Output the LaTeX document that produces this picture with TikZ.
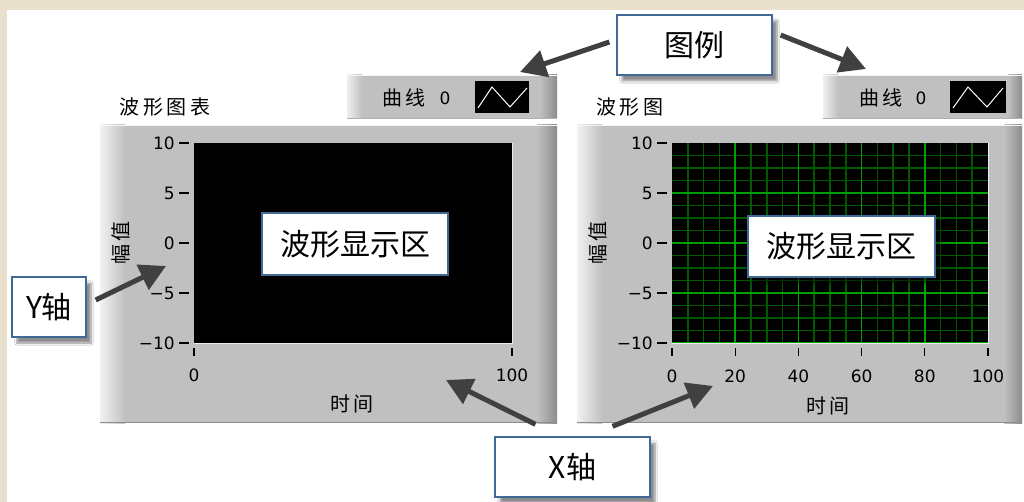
\documentclass[tikz,border=0pt]{standalone}
\usepackage{fontspec}
\setmainfont{DejaVu Sans}
\newfontfamily\cjk[LetterSpace=18]{Noto Sans CJK SC}
\newfontfamily\cjkc{Noto Sans CJK SC}
\usetikzlibrary{arrows.meta,shadows.blur}
\definecolor{beige}{RGB}{232,224,204}
\definecolor{calloutblue}{RGB}{65,105,150}
\definecolor{arrowgray}{RGB}{64,64,64}
\definecolor{panelgray}{RGB}{192,192,192}
\definecolor{majorgreen}{RGB}{0,160,0}
\definecolor{minorgreen}{RGB}{0,90,0}
\tikzset{
  callout/.style={draw=calloutblue, line width=1.3pt, fill=white, inner sep=0pt,
    font=\cjkc\fontsize{30}{36}\selectfont,
    blur shadow={shadow xshift=5pt, shadow yshift=-6pt, shadow blur steps=8, shadow opacity=45}},
  callarrow/.style={draw=arrowgray, line width=5pt, -{Triangle[length=26pt,width=27pt]}},
  paneltitle/.style={font=\cjk\fontsize{20}{24}\selectfont, inner sep=0pt},
  ticklabel/.style={font=\fontsize{17}{20}\selectfont, inner sep=0pt},
  tickline/.style={line width=1.2pt, black},
  wave/.style={white, line width=1pt}
}
\begin{document}
\begin{tikzpicture}[x=1pt,y=-1pt]
\useasboundingbox (0,0) rectangle (1024,502);
\fill[beige] (0,0) rectangle (1024,502);
\fill[white] (7,10) rectangle (1024,502);

% ---------- left panel (chart) ----------
\fill[panelgray] (100,125) rectangle (557,423);
\shade[left color=white!80!panelgray, right color=panelgray] (100,125) rectangle (125,423);
\shade[left color=panelgray, right color=black!45] (537,125) rectangle (557,423);
\draw[white!85!panelgray, line width=1.5pt] (100,125.75) -- (557,125.75);
\draw[black!45, line width=1.5pt] (100,422.25) -- (557,422.25);
\fill[black] (194,143) rectangle (512,343);
\draw[white!70!panelgray, line width=1pt] (512.5,143) -- (512.5,343.5) -- (194,343.5);

% ---------- right panel (graph) ----------
\fill[panelgray] (577,125) rectangle (1022,423);
\shade[left color=white!80!panelgray, right color=panelgray] (577,125) rectangle (602,423);
\shade[left color=panelgray, right color=black!45] (1004,125) rectangle (1022,423);
\draw[white!85!panelgray, line width=1.5pt] (577,125.75) -- (1022,125.75);
\draw[black!45, line width=1.5pt] (577,422.25) -- (1022,422.25);
\fill[black] (672,143) rectangle (988,343);
\foreach \i in {1,...,19} {
  \draw[minorgreen, line width=1.5pt] ({672+\i*15.8},143) -- ({672+\i*15.8},343);
}
\foreach \j in {1,...,15} {
  \draw[minorgreen, line width=1.5pt] (672,{143+\j*12.5}) -- (988,{143+\j*12.5});
}
\foreach \i in {1,...,4} {
  \draw[majorgreen, line width=1.5pt] ({672+\i*63.2},143) -- ({672+\i*63.2},343);
  \draw[majorgreen, line width=1.5pt] (672,{143+\i*50}) -- (988,{143+\i*50});
}
\draw[white!70!panelgray, line width=1pt] (988.5,143) -- (988.5,343.5) -- (672,343.5);

% ---------- y axes ----------
\foreach \v/\yy in {10/143, 5/193, 0/243, {\char"2212 5}/293, {\char"2212 10}/343} {
  \draw[tickline] (179,\yy) -- (189,\yy);
  \node[ticklabel, anchor=east] at (175,\yy) {\v};
  \draw[tickline] (657,\yy) -- (667,\yy);
  \node[ticklabel, anchor=east] at (653,\yy) {\v};
}
\node[paneltitle, rotate=90] (yl1) at (121,243) {幅值};
\node[paneltitle, rotate=90] (yl2) at (598,243) {幅值};

% ---------- x axes ----------
\foreach \xx/\v in {194/0, 512/100} {
  \draw[tickline] (\xx,348) -- (\xx,356);
  \node[ticklabel] at (\xx,375) {\v};
}
\foreach \k/\v in {0/0,1/20,2/40,3/60,4/80,5/100} {
  \draw[tickline] ({672+\k*63.2},348) -- ({672+\k*63.2},356);
  \node[ticklabel] at ({672+\k*63.2},376) {\v};
}
\node[paneltitle] (xl1) at (352,404) {时间};
\node[paneltitle] (xl2) at (828,406) {时间};

% ---------- titles ----------
\node[paneltitle] (t1) at (165,107) {波形图表};
\node[paneltitle] (t2) at (630,107) {波形图};

% ---------- legends ----------
\fill[panelgray] (347,75) rectangle (557,119);
\shade[left color=white!75!panelgray, right color=panelgray] (347,75) rectangle (362,119);
\shade[left color=panelgray, right color=black!45] (540,75) rectangle (557,119);
\draw[white!85!panelgray, line width=1.5pt] (347,75.75) -- (557,75.75);
\draw[black!30, line width=1pt] (347,118.5) -- (557,118.5);
\node[paneltitle] (c1) at (404,98) {曲线};
\node[ticklabel] (z1) at (445,98) {0};
\fill[black] (475,81) rectangle (529,113);
\draw[wave] (478,108) -- (492,87) -- (510,107) -- (527,88);

\fill[panelgray] (823,75) rectangle (1022,119);
\shade[left color=white!75!panelgray, right color=panelgray] (823,75) rectangle (838,119);
\shade[left color=panelgray, right color=black!45] (1008,75) rectangle (1022,119);
\draw[white!85!panelgray, line width=1.5pt] (823,75.75) -- (1022,75.75);
\draw[black!30, line width=1pt] (823,118.5) -- (1022,118.5);
\node[paneltitle] (c2) at (881,98) {曲线};
\node[ticklabel] (z2) at (921,98) {0};
\fill[black] (950,81) rectangle (1006,113);
\draw[wave] (953,108) -- (968,87) -- (987,107) -- (1003,88);

% ---------- callouts ----------
\node[callout, minimum width=186pt, minimum height=62pt] (d1) at (355,244) {波形显示区};
\node[callout, minimum width=187pt, minimum height=61pt] (d2) at (841.5,246.5) {波形显示区};
\node[callout, minimum width=155pt, minimum height=60pt] (lg) at (694.5,45) {图例};
\node[callout, minimum width=74pt, minimum height=60pt] (ya) at (49,307) {Y轴};
\node[callout, minimum width=155pt, minimum height=60pt] (xa) at (572.5,467) {X轴};

% ---------- arrow targets ----------
\coordinate (lgL) at (520,72);
\coordinate (lgR) at (866,69);
\coordinate (yaT) at (166,266);
\coordinate (xaL) at (446,380);
\coordinate (xaR) at (713,386);

\draw[callarrow] ([shift={(-7,-3)}]lg.west) -- (lgL);
\draw[callarrow] ([shift={(8,-10)}]lg.east) -- (lgR);
\draw[callarrow] ([shift={(9,-7)}]ya.east) -- (yaT);
\draw[callarrow] ([shift={(-37,-12)}]xa.north) -- (xaL);
\draw[callarrow] ([shift={(40,-10)}]xa.north) -- (xaR);
\end{tikzpicture}
\end{document}
